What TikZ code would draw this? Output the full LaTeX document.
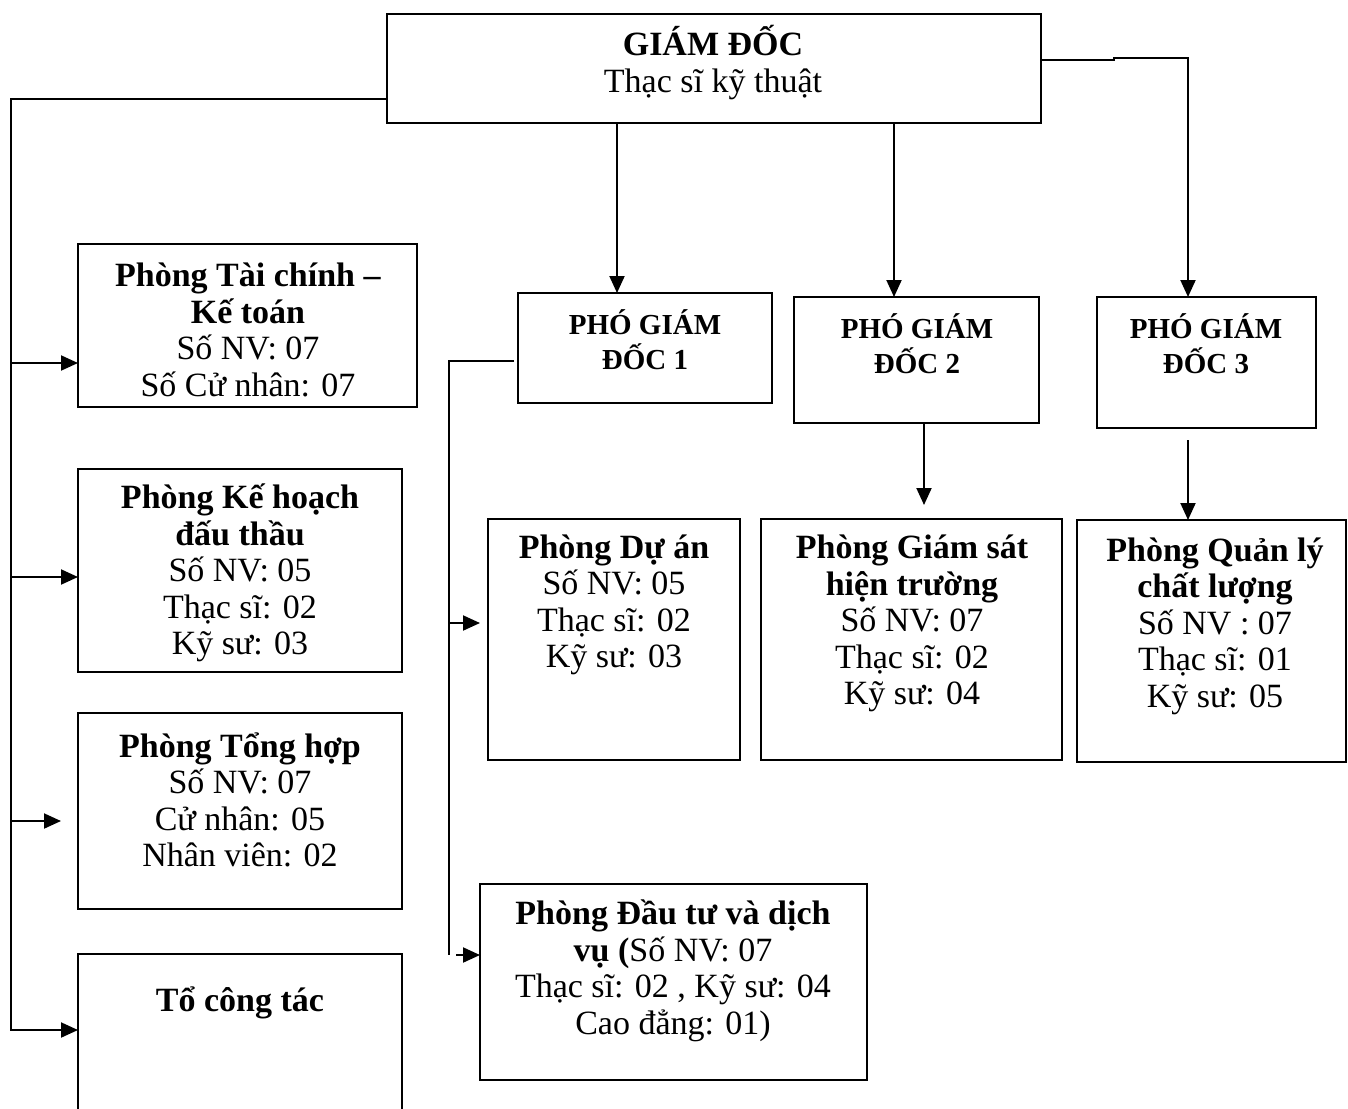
\documentclass[tikz,border=0pt]{standalone}
\usepackage{fontspec}
\setmainfont{Liberation Serif}
\usetikzlibrary{arrows.meta}
\begin{document}
\begin{tikzpicture}[x=1pt,y=-1pt,
  box/.style={draw, line width=2pt, inner sep=0pt, outer sep=0pt, anchor=north west},
  txt/.style={align=center, inner sep=0pt, font=\fontsize{34}{36.5}\selectfont},
  ptxt/.style={align=center, inner sep=0pt, font=\bfseries\fontsize{29}{35}\selectfont},
  conn/.style={line width=2pt},
  arr/.style={line width=2pt, -{Triangle[length=17pt,width=15pt]}}]
\clip (0,0) rectangle (1348,1108);
\fill[white] (0,0) rectangle (1348,1108);
% boxes
\node[box, minimum width=654pt, minimum height=109pt] (gd) at (387,14) {};
\node[box, minimum width=339pt, minimum height=163pt] (tc) at (78,244) {};
\node[box, minimum width=324pt, minimum height=203pt] (kh) at (78,469) {};
\node[box, minimum width=324pt, minimum height=196pt] (th) at (78,713) {};
\node[box, minimum width=324pt, minimum height=175pt] (tct) at (78,954) {};
\node[box, minimum width=254pt, minimum height=110pt] (pgd1) at (518,293) {};
\node[box, minimum width=245pt, minimum height=126pt] (pgd2) at (794,297) {};
\node[box, minimum width=219pt, minimum height=131pt] (pgd3) at (1097,297) {};
\node[box, minimum width=252pt, minimum height=241pt] (da) at (488,519) {};
\node[box, minimum width=301pt, minimum height=241pt] (gs) at (761,519) {};
\node[box, minimum width=269pt, minimum height=242pt] (ql) at (1077,520) {};
\node[box, minimum width=387pt, minimum height=196pt] (dt) at (480,884) {};
% texts
\node[txt] (gdT) at (713,62.5) {\textbf{GIÁM ĐỐC}\\Thạc sĩ kỹ thuật};
\node[txt] (tcT) at (248,330) {\textbf{Phòng Tài chính –}\\\textbf{Kế toán}\\Số NV: 07\\Số Cử nhân: 07};
\node[txt] (khT) at (240,573) {\textbf{Phòng Kế hoạch}\\\textbf{đấu thầu}\\Số NV: 05\\Thạc sĩ: 02\\Kỹ sư: 03};
\node[txt] (thT) at (240,800) {\textbf{Phòng Tổng hợp}\\Số NV: 07\\Cử nhân: 05\\Nhân viên: 02};
\node[txt] (tctT) at (240,1003) {\textbf{Tổ công tác}};
\node[ptxt] (p1T) at (645,339.5) {PHÓ GIÁM\\ĐỐC 1};
\node[ptxt] (p2T) at (917,343.5) {PHÓ GIÁM\\ĐỐC 2};
\node[ptxt] (p3T) at (1206,343.5) {PHÓ GIÁM\\ĐỐC 3};
\node[txt] (daT) at (614,605) {\textbf{Phòng Dự án}\\Số NV: 05\\Thạc sĩ: 02\\Kỹ sư: 03};
\node[txt] (gsT) at (912,623.5) {\textbf{Phòng Giám sát}\\\textbf{hiện trường}\\Số NV: 07\\Thạc sĩ: 02\\Kỹ sư: 04};
\node[txt] (qlT) at (1215,626) {\textbf{Phòng Quản lý}\\\textbf{chất lượng}\\Số NV : 07\\Thạc sĩ: 01\\Kỹ sư: 05};
\node[txt] (dtT) at (673,971) {\textbf{Phòng Đầu tư và dịch}\\\textbf{vụ (}Số NV: 07\\Thạc sĩ: 02 , Kỹ sư: 04\\Cao đẳng: 01)};
% left trunk
\coordinate (LT) at (11,99);
\coordinate (LB) at (11,1030);
\coordinate (a1) at (11,363);
\coordinate (a2) at (11,577);
\coordinate (a3) at (11,821);
\draw[arr] (gd.west |- LT) -- (LT) -- (LB) -- (LB -| tct.west);
\draw[arr] (a1) -- (a1 -| tc.west);
\draw[arr] (a2) -- (a2 -| kh.west);
\draw[arr, shorten >=17pt] (a3) -- (a3 -| th.west);
% director to deputies
\coordinate (c1) at (617,0);
\coordinate (c2) at (894,0);
\coordinate (r1) at (1114,60);
\coordinate (r2) at (1114,58);
\coordinate (c3) at (1188,58);
\draw[arr] (c1 |- gd.south) -- (c1 |- pgd1.north);
\draw[arr] (c2 |- gd.south) -- (c2 |- pgd2.north);
\draw[arr] (gd.east |- r1) -- (r1) -- (r2) -- (c3) -- (c3 |- pgd3.north);
% deputies to departments
\coordinate (c4) at (924,0);
\draw[arr, shorten >=14pt] (c4 |- pgd2.south) -- (c4 |- gs.north);
\draw[arr, shorten <=12pt] (c3 |- pgd3.south) -- (c3 |- ql.north);
\coordinate (b0) at (449,361);
\coordinate (b1) at (449,623);
\coordinate (b2) at (449,955);
\draw[conn, shorten <=4pt] (pgd1.west |- b0) -- (b0) -- (b2);
\draw[arr, shorten >=8pt] (b1) -- (b1 -| da.west);
\draw[arr, shorten <=7pt] (b2) -- (b2 -| dt.west);
\end{tikzpicture}
\end{document}
